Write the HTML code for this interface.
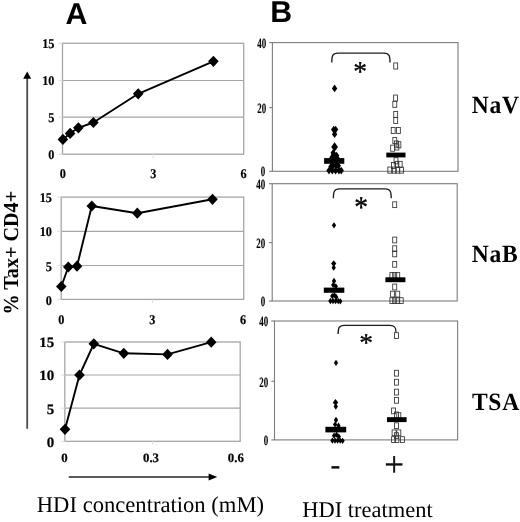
<!DOCTYPE html>
<html lang="en"><head><meta charset="utf-8"><title>Figure</title>
<style>
html,body{margin:0;padding:0;background:#fff;}
body{width:520px;height:522px;overflow:hidden;}
svg{display:block;text-rendering:geometricPrecision;will-change:transform;}
.t{font-family:"Liberation Serif", "DejaVu Serif", serif;font-weight:bold;fill:#000;stroke:#000;stroke-width:0.2px;}
.n{font-family:"Liberation Serif", "DejaVu Serif", serif;font-weight:bold;font-size:14.2px;fill:#000;stroke:#000;stroke-width:0.12px;}
.big{font-family:"Liberation Serif", "DejaVu Serif", serif;font-weight:bold;font-size:24.8px;letter-spacing:0.8px;fill:#000;}
.cap{font-family:"Liberation Serif", "DejaVu Serif", serif;font-size:22.3px;fill:#000;}
.hd{font-family:"Liberation Sans", "DejaVu Sans", sans-serif;font-weight:bold;font-size:30.3px;fill:#000;}
.yt{font-family:"Liberation Serif", "DejaVu Serif", serif;font-weight:bold;font-size:21.4px;fill:#000;}
.st{font-family:"Liberation Serif", "DejaVu Serif", serif;font-size:27.5px;fill:#000;stroke:#000;stroke-width:0.35px;}
.pm{font-family:"Liberation Serif", "DejaVu Serif", serif;font-size:35px;fill:#111;stroke:#111;stroke-width:0.3px;}
.mn{font-family:"Liberation Sans", "DejaVu Sans", sans-serif;font-size:32.5px;fill:#111;}
</style></head><body>
<svg width="520" height="522" viewBox="0 0 520 522">
<rect width="520" height="522" fill="#fff"/>
<text x="65.4" y="23.9" class="hd">A</text>
<text x="270.2" y="22.4" class="hd">B</text>
<rect x="62.5" y="43.3" width="181.20" height="110.90" fill="#fff" stroke="#a6a6a6" stroke-width="1.3"/>
<line x1="62.5" y1="80.5" x2="243.7" y2="80.5" stroke="#a6a6a6" stroke-width="1.2"/>
<line x1="58.5" y1="80.5" x2="62.5" y2="80.5" stroke="#e0e0e0" stroke-width="1.1"/>
<line x1="62.5" y1="117.2" x2="243.7" y2="117.2" stroke="#a6a6a6" stroke-width="1.2"/>
<line x1="58.5" y1="117.2" x2="62.5" y2="117.2" stroke="#e0e0e0" stroke-width="1.1"/>
<line x1="58.5" y1="43.3" x2="62.5" y2="43.3" stroke="#e0e0e0" stroke-width="1.1"/>
<line x1="58.5" y1="154.2" x2="62.5" y2="154.2" stroke="#e0e0e0" stroke-width="1.1"/>
<line x1="153.1" y1="154.2" x2="153.1" y2="157.7" stroke="#e0e0e0" stroke-width="1.1"/>
<path d="M62.90 139.40L70.10 133.40L78.40 127.80L93.40 122.50L138.20 93.80L213.40 61.30" fill="none" stroke="#000" stroke-width="1.9" stroke-linejoin="round"/>
<path d="M62.90 133.80L68.20 139.40L62.90 145.00L57.60 139.40Z" fill="#000"/>
<path d="M70.10 127.80L75.40 133.40L70.10 139.00L64.80 133.40Z" fill="#000"/>
<path d="M78.40 122.20L83.70 127.80L78.40 133.40L73.10 127.80Z" fill="#000"/>
<path d="M93.40 116.90L98.70 122.50L93.40 128.10L88.10 122.50Z" fill="#000"/>
<path d="M138.20 88.20L143.50 93.80L138.20 99.40L132.90 93.80Z" fill="#000"/>
<path d="M213.40 55.70L218.70 61.30L213.40 66.90L208.10 61.30Z" fill="#000"/>
<text transform="translate(54.40 48.26) scale(0.92 1)" text-anchor="end" class="t" font-size="13.3">15</text>
<text transform="translate(54.40 85.26) scale(0.92 1)" text-anchor="end" class="t" font-size="13.3">10</text>
<text transform="translate(54.40 121.96) scale(0.92 1)" text-anchor="end" class="t" font-size="13.3">5</text>
<text transform="translate(54.40 159.06) scale(0.92 1)" text-anchor="end" class="t" font-size="13.3">0</text>
<text transform="translate(62.9 178.16) scale(0.92 1)" text-anchor="middle" class="t" font-size="13.3">0</text>
<text transform="translate(153.3 178.16) scale(0.92 1)" text-anchor="middle" class="t" font-size="13.3">3</text>
<text transform="translate(243.5 178.16) scale(0.92 1)" text-anchor="middle" class="t" font-size="13.3">6</text>
<rect x="61.2" y="197.1" width="182.50" height="102.30" fill="#fff" stroke="#a6a6a6" stroke-width="1.3"/>
<line x1="61.2" y1="231.3" x2="243.7" y2="231.3" stroke="#a6a6a6" stroke-width="1.2"/>
<line x1="57.2" y1="231.3" x2="61.2" y2="231.3" stroke="#e0e0e0" stroke-width="1.1"/>
<line x1="61.2" y1="265.5" x2="243.7" y2="265.5" stroke="#a6a6a6" stroke-width="1.2"/>
<line x1="57.2" y1="265.5" x2="61.2" y2="265.5" stroke="#e0e0e0" stroke-width="1.1"/>
<line x1="57.2" y1="197.1" x2="61.2" y2="197.1" stroke="#e0e0e0" stroke-width="1.1"/>
<line x1="57.2" y1="299.4" x2="61.2" y2="299.4" stroke="#e0e0e0" stroke-width="1.1"/>
<line x1="152.4" y1="299.4" x2="152.4" y2="302.9" stroke="#e0e0e0" stroke-width="1.1"/>
<path d="M61.30 286.50L68.30 267.00L77.00 266.20L91.80 206.00L137.30 213.20L212.50 199.30" fill="none" stroke="#000" stroke-width="1.9" stroke-linejoin="round"/>
<path d="M61.30 280.90L66.60 286.50L61.30 292.10L56.00 286.50Z" fill="#000"/>
<path d="M68.30 261.40L73.60 267.00L68.30 272.60L63.00 267.00Z" fill="#000"/>
<path d="M77.00 260.60L82.30 266.20L77.00 271.80L71.70 266.20Z" fill="#000"/>
<path d="M91.80 200.40L97.10 206.00L91.80 211.60L86.50 206.00Z" fill="#000"/>
<path d="M137.30 207.60L142.60 213.20L137.30 218.80L132.00 213.20Z" fill="#000"/>
<path d="M212.50 193.70L217.80 199.30L212.50 204.90L207.20 199.30Z" fill="#000"/>
<text transform="translate(51.90 202.36) scale(0.92 1)" text-anchor="end" class="t" font-size="13.3">15</text>
<text transform="translate(51.90 236.46) scale(0.92 1)" text-anchor="end" class="t" font-size="13.3">10</text>
<text transform="translate(51.90 270.66) scale(0.92 1)" text-anchor="end" class="t" font-size="13.3">5</text>
<text transform="translate(51.90 304.96) scale(0.92 1)" text-anchor="end" class="t" font-size="13.3">0</text>
<text transform="translate(61.3 324.26) scale(0.92 1)" text-anchor="middle" class="t" font-size="13.3">0</text>
<text transform="translate(152.3 324.26) scale(0.92 1)" text-anchor="middle" class="t" font-size="13.3">3</text>
<text transform="translate(243 324.26) scale(0.92 1)" text-anchor="middle" class="t" font-size="13.3">6</text>
<rect x="64.8" y="342" width="175.40" height="99.30" fill="#fff" stroke="#a6a6a6" stroke-width="1.3"/>
<line x1="64.8" y1="375" x2="240.2" y2="375" stroke="#a6a6a6" stroke-width="1.2"/>
<line x1="60.8" y1="375" x2="64.8" y2="375" stroke="#e0e0e0" stroke-width="1.1"/>
<line x1="64.8" y1="408.2" x2="240.2" y2="408.2" stroke="#a6a6a6" stroke-width="1.2"/>
<line x1="60.8" y1="408.2" x2="64.8" y2="408.2" stroke="#e0e0e0" stroke-width="1.1"/>
<line x1="60.8" y1="342" x2="64.8" y2="342" stroke="#e0e0e0" stroke-width="1.1"/>
<line x1="60.8" y1="441.3" x2="64.8" y2="441.3" stroke="#e0e0e0" stroke-width="1.1"/>
<line x1="152.6" y1="441.3" x2="152.6" y2="444.8" stroke="#e0e0e0" stroke-width="1.1"/>
<path d="M65.00 429.30L79.50 375.00L93.80 343.80L123.80 353.30L167.50 354.40L211.20 342.20" fill="none" stroke="#000" stroke-width="1.9" stroke-linejoin="round"/>
<path d="M65.00 423.70L70.30 429.30L65.00 434.90L59.70 429.30Z" fill="#000"/>
<path d="M79.50 369.40L84.80 375.00L79.50 380.60L74.20 375.00Z" fill="#000"/>
<path d="M93.80 338.20L99.10 343.80L93.80 349.40L88.50 343.80Z" fill="#000"/>
<path d="M123.80 347.70L129.10 353.30L123.80 358.90L118.50 353.30Z" fill="#000"/>
<path d="M167.50 348.80L172.80 354.40L167.50 360.00L162.20 354.40Z" fill="#000"/>
<path d="M211.20 336.60L216.50 342.20L211.20 347.80L205.90 342.20Z" fill="#000"/>
<text transform="translate(54.20 347.22) scale(1.04 1)" text-anchor="end" class="t" font-size="14.4">15</text>
<text transform="translate(54.20 380.42) scale(1.04 1)" text-anchor="end" class="t" font-size="14.4">10</text>
<text transform="translate(54.20 413.82) scale(1.04 1)" text-anchor="end" class="t" font-size="14.4">5</text>
<text transform="translate(54.20 447.12) scale(1.04 1)" text-anchor="end" class="t" font-size="14.4">0</text>
<text transform="translate(64.5 461.99) scale(1.0 1)" text-anchor="middle" class="t" font-size="12.8">0</text>
<text transform="translate(151.0 461.99) scale(1.0 1)" text-anchor="middle" class="t" font-size="12.8">0.3</text>
<text transform="translate(235.8 461.99) scale(1.0 1)" text-anchor="middle" class="t" font-size="12.8">0.6</text>
<line x1="27.2" y1="77" x2="27.2" y2="428.7" stroke="#4a4a4a" stroke-width="1.8"/>
<path d="M27.2 71.6L31.2 78.8L23.2 78.8Z" fill="#000"/>
<line x1="68.8" y1="477" x2="210" y2="477" stroke="#222" stroke-width="1.6"/>
<path d="M217.2 477L208.6 480.6L208.6 473.4Z" fill="#000"/>
<text transform="translate(17.9 314.6) rotate(-90) scale(0.942 1)" class="yt">% Tax+ CD4+</text>
<text x="36.8" y="512.3" class="cap" style="font-size:22.62px">HDI concentration (mM)</text>
<text x="302.3" y="516.8" class="cap" style="font-size:22.47px">HDI treatment</text>
<rect x="272.4" y="42.6" width="185.60" height="128.70" fill="#fff" stroke="#7d7d7d" stroke-width="1.1"/>
<line x1="269.2" y1="42.6" x2="272.4" y2="42.6" stroke="#7d7d7d" stroke-width="1.1"/>
<line x1="269.2" y1="107.6" x2="272.4" y2="107.6" stroke="#7d7d7d" stroke-width="1.1"/>
<line x1="269.2" y1="171.3" x2="272.4" y2="171.3" stroke="#7d7d7d" stroke-width="1.1"/>
<text transform="translate(266.10 48.05) scale(0.63 1)" text-anchor="end" class="n">40</text>
<text transform="translate(266.10 112.85) scale(0.63 1)" text-anchor="end" class="n">20</text>
<text transform="translate(265.30 175.85) scale(0.63 1)" text-anchor="end" class="n">0</text>
<rect x="393.75" y="62.95" width="3.9" height="6.1" fill="#fff" fill-opacity="0.0" stroke="#333" stroke-width="0.85"/>
<rect x="393.65" y="95.05" width="3.9" height="6.1" fill="#fff" fill-opacity="0.0" stroke="#333" stroke-width="0.85"/>
<rect x="392.85" y="101.25" width="3.9" height="6.1" fill="#fff" fill-opacity="0.0" stroke="#333" stroke-width="0.85"/>
<rect x="393.75" y="111.45" width="3.9" height="6.1" fill="#fff" fill-opacity="0.0" stroke="#333" stroke-width="0.85"/>
<rect x="393.75" y="117.35" width="3.9" height="6.1" fill="#fff" fill-opacity="0.0" stroke="#333" stroke-width="0.85"/>
<rect x="391.25" y="127.45" width="3.9" height="6.1" fill="#fff" fill-opacity="0.0" stroke="#333" stroke-width="0.85"/>
<rect x="396.45" y="127.45" width="3.9" height="6.1" fill="#fff" fill-opacity="0.0" stroke="#333" stroke-width="0.85"/>
<rect x="392.85" y="137.55" width="3.9" height="6.1" fill="#fff" fill-opacity="0.0" stroke="#333" stroke-width="0.85"/>
<rect x="394.55" y="140.95" width="3.9" height="6.1" fill="#fff" fill-opacity="0.0" stroke="#333" stroke-width="0.85"/>
<rect x="396.95" y="141.75" width="3.9" height="6.1" fill="#fff" fill-opacity="0.0" stroke="#333" stroke-width="0.85"/>
<rect x="390.65" y="145.15" width="3.9" height="6.1" fill="#fff" fill-opacity="0.0" stroke="#333" stroke-width="0.85"/>
<rect x="394.95" y="143.95" width="3.9" height="6.1" fill="#fff" fill-opacity="0.0" stroke="#333" stroke-width="0.85"/>
<rect x="394.05" y="157.75" width="3.9" height="6.1" fill="#fff" fill-opacity="0.0" stroke="#333" stroke-width="0.85"/>
<rect x="394.95" y="161.35" width="3.9" height="6.1" fill="#fff" fill-opacity="0.0" stroke="#333" stroke-width="0.85"/>
<rect x="398.25" y="161.35" width="3.9" height="6.1" fill="#fff" fill-opacity="0.0" stroke="#333" stroke-width="0.85"/>
<rect x="391.55" y="162.45" width="3.9" height="6.1" fill="#fff" fill-opacity="0.0" stroke="#333" stroke-width="0.85"/>
<rect x="387.85" y="167.05" width="3.9" height="6.1" fill="#fff" fill-opacity="0.0" stroke="#333" stroke-width="0.85"/>
<rect x="392.35" y="167.05" width="3.9" height="6.1" fill="#fff" fill-opacity="0.0" stroke="#333" stroke-width="0.85"/>
<rect x="395.75" y="167.05" width="3.9" height="6.1" fill="#fff" fill-opacity="0.0" stroke="#333" stroke-width="0.85"/>
<rect x="399.65" y="167.05" width="3.9" height="6.1" fill="#fff" fill-opacity="0.0" stroke="#333" stroke-width="0.85"/>
<path d="M334.60 84.60L337.30 88.40L334.60 92.20L331.90 88.40Z" fill="#000"/>
<path d="M333.70 125.80L336.40 129.60L333.70 133.40L331.00 129.60Z" fill="#000"/>
<path d="M335.60 125.80L338.30 129.60L335.60 133.40L332.90 129.60Z" fill="#000"/>
<path d="M334.60 130.40L337.30 134.20L334.60 138.00L331.90 134.20Z" fill="#000"/>
<path d="M334.60 142.20L338.00 146.90L334.60 151.60L331.20 146.90Z" fill="#000"/>
<path d="M333.20 149.00L335.90 152.80L333.20 156.60L330.50 152.80Z" fill="#000"/>
<path d="M334.00 151.20L336.70 155.00L334.00 158.80L331.30 155.00Z" fill="#000"/>
<path d="M336.60 151.80L339.30 155.60L336.60 159.40L333.90 155.60Z" fill="#000"/>
<path d="M332.00 153.60L334.70 157.40L332.00 161.20L329.30 157.40Z" fill="#000"/>
<path d="M337.00 154.20L339.70 158.00L337.00 161.80L334.30 158.00Z" fill="#000"/>
<path d="M333.00 161.90L335.70 165.70L333.00 169.50L330.30 165.70Z" fill="#000"/>
<path d="M335.90 161.90L338.60 165.70L335.90 169.50L333.20 165.70Z" fill="#000"/>
<path d="M338.30 161.90L341.00 165.70L338.30 169.50L335.60 165.70Z" fill="#000"/>
<path d="M331.00 162.70L333.70 166.50L331.00 170.30L328.30 166.50Z" fill="#000"/>
<path d="M329.00 166.80L331.70 170.60L329.00 174.40L326.30 170.60Z" fill="#000"/>
<path d="M332.30 166.80L335.00 170.60L332.30 174.40L329.60 170.60Z" fill="#000"/>
<path d="M335.60 166.80L338.30 170.60L335.60 174.40L332.90 170.60Z" fill="#000"/>
<path d="M338.90 166.80L341.60 170.60L338.90 174.40L336.20 170.60Z" fill="#000"/>
<path d="M341.20 166.80L343.90 170.60L341.20 174.40L338.50 170.60Z" fill="#000"/>
<rect x="324.1" y="158.1" width="20.20" height="5.70" fill="#000"/>
<rect x="386.3" y="152.6" width="19.20" height="4.80" fill="#000"/>
<path d="M331.8 62.4C331.8 56.1 332.40000000000003 53.1 337.8 53.1L384 53.1C389.4 53.1 390 56.1 390 62.4" fill="none" stroke="#1c1c1c" stroke-width="1.35"/>
<text transform="translate(360 80.75) scale(1 1.05)" text-anchor="middle" class="st">*</text>
<rect x="272.2" y="183.7" width="185.00" height="117.30" fill="#fff" stroke="#7d7d7d" stroke-width="1.1"/>
<line x1="269.0" y1="183.7" x2="272.2" y2="183.7" stroke="#7d7d7d" stroke-width="1.1"/>
<line x1="269.0" y1="242.6" x2="272.2" y2="242.6" stroke="#7d7d7d" stroke-width="1.1"/>
<line x1="269.0" y1="301" x2="272.2" y2="301" stroke="#7d7d7d" stroke-width="1.1"/>
<text transform="translate(265.20 189.15) scale(0.63 1)" text-anchor="end" class="n">40</text>
<text transform="translate(265.20 247.85) scale(0.63 1)" text-anchor="end" class="n">20</text>
<text transform="translate(265.20 306.25) scale(0.63 1)" text-anchor="end" class="n">0</text>
<rect x="392.70" y="201.80" width="4.0" height="5.8" fill="#fff" fill-opacity="0.0" stroke="#333" stroke-width="0.85"/>
<rect x="392.70" y="237.10" width="4.0" height="5.8" fill="#fff" fill-opacity="0.0" stroke="#333" stroke-width="0.85"/>
<rect x="392.70" y="245.80" width="4.0" height="5.8" fill="#fff" fill-opacity="0.0" stroke="#333" stroke-width="0.85"/>
<rect x="392.70" y="251.00" width="4.0" height="5.8" fill="#fff" fill-opacity="0.0" stroke="#333" stroke-width="0.85"/>
<rect x="392.70" y="261.40" width="4.0" height="5.8" fill="#fff" fill-opacity="0.0" stroke="#333" stroke-width="0.85"/>
<rect x="389.90" y="272.60" width="4.0" height="5.8" fill="#fff" fill-opacity="0.0" stroke="#333" stroke-width="0.85"/>
<rect x="392.70" y="272.60" width="4.0" height="5.8" fill="#fff" fill-opacity="0.0" stroke="#333" stroke-width="0.85"/>
<rect x="395.70" y="272.60" width="4.0" height="5.8" fill="#fff" fill-opacity="0.0" stroke="#333" stroke-width="0.85"/>
<rect x="392.70" y="284.10" width="4.0" height="5.8" fill="#fff" fill-opacity="0.0" stroke="#333" stroke-width="0.85"/>
<rect x="390.60" y="291.20" width="4.0" height="5.8" fill="#fff" fill-opacity="0.0" stroke="#333" stroke-width="0.85"/>
<rect x="395.70" y="291.20" width="4.0" height="5.8" fill="#fff" fill-opacity="0.0" stroke="#333" stroke-width="0.85"/>
<rect x="389.90" y="297.70" width="4.0" height="5.8" fill="#fff" fill-opacity="0.0" stroke="#333" stroke-width="0.85"/>
<rect x="392.70" y="297.70" width="4.0" height="5.8" fill="#fff" fill-opacity="0.0" stroke="#333" stroke-width="0.85"/>
<rect x="395.70" y="297.70" width="4.0" height="5.8" fill="#fff" fill-opacity="0.0" stroke="#333" stroke-width="0.85"/>
<rect x="399.20" y="297.70" width="4.0" height="5.8" fill="#fff" fill-opacity="0.0" stroke="#333" stroke-width="0.85"/>
<path d="M334.00 222.15L336.15 225.30L334.00 228.45L331.85 225.30Z" fill="#000"/>
<path d="M333.70 260.30L336.30 263.60L333.70 266.90L331.10 263.60Z" fill="#000"/>
<path d="M333.70 264.55L335.85 267.70L333.70 270.85L331.55 267.70Z" fill="#000"/>
<path d="M334.00 277.85L336.15 281.00L334.00 284.15L331.85 281.00Z" fill="#000"/>
<path d="M333.20 281.75L335.35 284.90L333.20 288.05L331.05 284.90Z" fill="#000"/>
<path d="M335.80 283.15L337.95 286.30L335.80 289.45L333.65 286.30Z" fill="#000"/>
<path d="M332.30 292.95L334.45 296.10L332.30 299.25L330.15 296.10Z" fill="#000"/>
<path d="M334.40 292.05L336.55 295.20L334.40 298.35L332.25 295.20Z" fill="#000"/>
<path d="M336.20 293.85L338.35 297.00L336.20 300.15L334.05 297.00Z" fill="#000"/>
<path d="M330.40 297.85L332.55 301.00L330.40 304.15L328.25 301.00Z" fill="#000"/>
<path d="M333.00 297.85L335.15 301.00L333.00 304.15L330.85 301.00Z" fill="#000"/>
<path d="M335.60 297.85L337.75 301.00L335.60 304.15L333.45 301.00Z" fill="#000"/>
<path d="M338.20 297.85L340.35 301.00L338.20 304.15L336.05 301.00Z" fill="#000"/>
<path d="M340.30 298.15L342.45 301.30L340.30 304.45L338.15 301.30Z" fill="#000"/>
<rect x="323.8" y="287.6" width="20.50" height="5.20" fill="#000"/>
<rect x="385.4" y="277.3" width="20.00" height="4.90" fill="#000"/>
<path d="M333.4 198.3C333.4 191.9 334.0 188.9 339.4 188.9L385.2 188.9C390.59999999999997 188.9 391.2 191.9 391.2 198.3" fill="none" stroke="#1c1c1c" stroke-width="1.35"/>
<text transform="translate(361.2 216.99) scale(1 1.1)" text-anchor="middle" class="st">*</text>
<rect x="274.5" y="321.0" width="183.10" height="118.90" fill="#fff" stroke="#7d7d7d" stroke-width="1.1"/>
<line x1="271.3" y1="321.0" x2="274.5" y2="321.0" stroke="#7d7d7d" stroke-width="1.1"/>
<line x1="271.3" y1="381.3" x2="274.5" y2="381.3" stroke="#7d7d7d" stroke-width="1.1"/>
<line x1="271.3" y1="439.9" x2="274.5" y2="439.9" stroke="#7d7d7d" stroke-width="1.1"/>
<text transform="translate(268.10 326.45) scale(0.63 1)" text-anchor="end" class="n">40</text>
<text transform="translate(268.10 386.55) scale(0.63 1)" text-anchor="end" class="n">20</text>
<text transform="translate(268.10 445.15) scale(0.63 1)" text-anchor="end" class="n">0</text>
<rect x="394.50" y="332.70" width="4.0" height="5.8" fill="#fff" fill-opacity="0.0" stroke="#333" stroke-width="0.85"/>
<rect x="394.50" y="370.30" width="4.0" height="5.8" fill="#fff" fill-opacity="0.0" stroke="#333" stroke-width="0.85"/>
<rect x="394.50" y="379.30" width="4.0" height="5.8" fill="#fff" fill-opacity="0.0" stroke="#333" stroke-width="0.85"/>
<rect x="394.50" y="389.20" width="4.0" height="5.8" fill="#fff" fill-opacity="0.0" stroke="#333" stroke-width="0.85"/>
<rect x="394.50" y="397.40" width="4.0" height="5.8" fill="#fff" fill-opacity="0.0" stroke="#333" stroke-width="0.85"/>
<rect x="391.60" y="408.00" width="4.0" height="5.8" fill="#fff" fill-opacity="0.0" stroke="#333" stroke-width="0.85"/>
<rect x="394.50" y="412.00" width="4.0" height="5.8" fill="#fff" fill-opacity="0.0" stroke="#333" stroke-width="0.85"/>
<rect x="396.80" y="412.70" width="4.0" height="5.8" fill="#fff" fill-opacity="0.0" stroke="#333" stroke-width="0.85"/>
<rect x="394.50" y="422.80" width="4.0" height="5.8" fill="#fff" fill-opacity="0.0" stroke="#333" stroke-width="0.85"/>
<rect x="392.10" y="429.90" width="4.0" height="5.8" fill="#fff" fill-opacity="0.0" stroke="#333" stroke-width="0.85"/>
<rect x="396.80" y="429.90" width="4.0" height="5.8" fill="#fff" fill-opacity="0.0" stroke="#333" stroke-width="0.85"/>
<rect x="394.50" y="432.70" width="4.0" height="5.8" fill="#fff" fill-opacity="0.0" stroke="#333" stroke-width="0.85"/>
<rect x="391.60" y="436.70" width="4.0" height="5.8" fill="#fff" fill-opacity="0.0" stroke="#333" stroke-width="0.85"/>
<rect x="394.90" y="436.70" width="4.0" height="5.8" fill="#fff" fill-opacity="0.0" stroke="#333" stroke-width="0.85"/>
<rect x="400.40" y="436.70" width="4.0" height="5.8" fill="#fff" fill-opacity="0.0" stroke="#333" stroke-width="0.85"/>
<path d="M336.00 359.65L338.15 362.80L336.00 365.95L333.85 362.80Z" fill="#000"/>
<path d="M335.50 399.10L338.20 402.40L335.50 405.70L332.80 402.40Z" fill="#000"/>
<path d="M335.80 403.35L337.95 406.50L335.80 409.65L333.65 406.50Z" fill="#000"/>
<path d="M336.00 416.85L338.15 420.00L336.00 423.15L333.85 420.00Z" fill="#000"/>
<path d="M335.10 421.25L337.25 424.40L335.10 427.55L332.95 424.40Z" fill="#000"/>
<path d="M338.50 422.55L340.65 425.70L338.50 428.85L336.35 425.70Z" fill="#000"/>
<path d="M334.10 432.55L336.25 435.70L334.10 438.85L331.95 435.70Z" fill="#000"/>
<path d="M336.60 431.55L338.75 434.70L336.60 437.85L334.45 434.70Z" fill="#000"/>
<path d="M338.80 433.45L340.95 436.60L338.80 439.75L336.65 436.60Z" fill="#000"/>
<path d="M332.40 437.45L334.55 440.60L332.40 443.75L330.25 440.60Z" fill="#000"/>
<path d="M335.00 437.45L337.15 440.60L335.00 443.75L332.85 440.60Z" fill="#000"/>
<path d="M337.60 437.45L339.75 440.60L337.60 443.75L335.45 440.60Z" fill="#000"/>
<path d="M340.20 437.45L342.35 440.60L340.20 443.75L338.05 440.60Z" fill="#000"/>
<path d="M342.60 437.65L344.75 440.80L342.60 443.95L340.45 440.80Z" fill="#000"/>
<rect x="325.4" y="426.8" width="20.80" height="5.60" fill="#000"/>
<rect x="387" y="417.2" width="19.60" height="4.90" fill="#000"/>
<path d="M338.1 334.1C338.1 328.4 338.70000000000005 325.4 344.1 325.4L390 325.4C395.4 325.4 396 328.4 396 332.2" fill="none" stroke="#1c1c1c" stroke-width="1.35"/>
<text transform="translate(366.2 351.40) scale(1 0.93)" text-anchor="middle" class="st">*</text>
<text transform="translate(471.7 112.9) scale(0.95 1)" class="big">NaV</text>
<text transform="translate(471.7 261.5) scale(0.95 1)" class="big">NaB</text>
<text transform="translate(471.9 409.6) scale(0.95 1)" class="big">TSA</text>
<text x="335.3" y="476.4" text-anchor="middle" class="mn">-</text>
<text x="394" y="475.9" text-anchor="middle" class="pm">+</text>
</svg></body></html>
